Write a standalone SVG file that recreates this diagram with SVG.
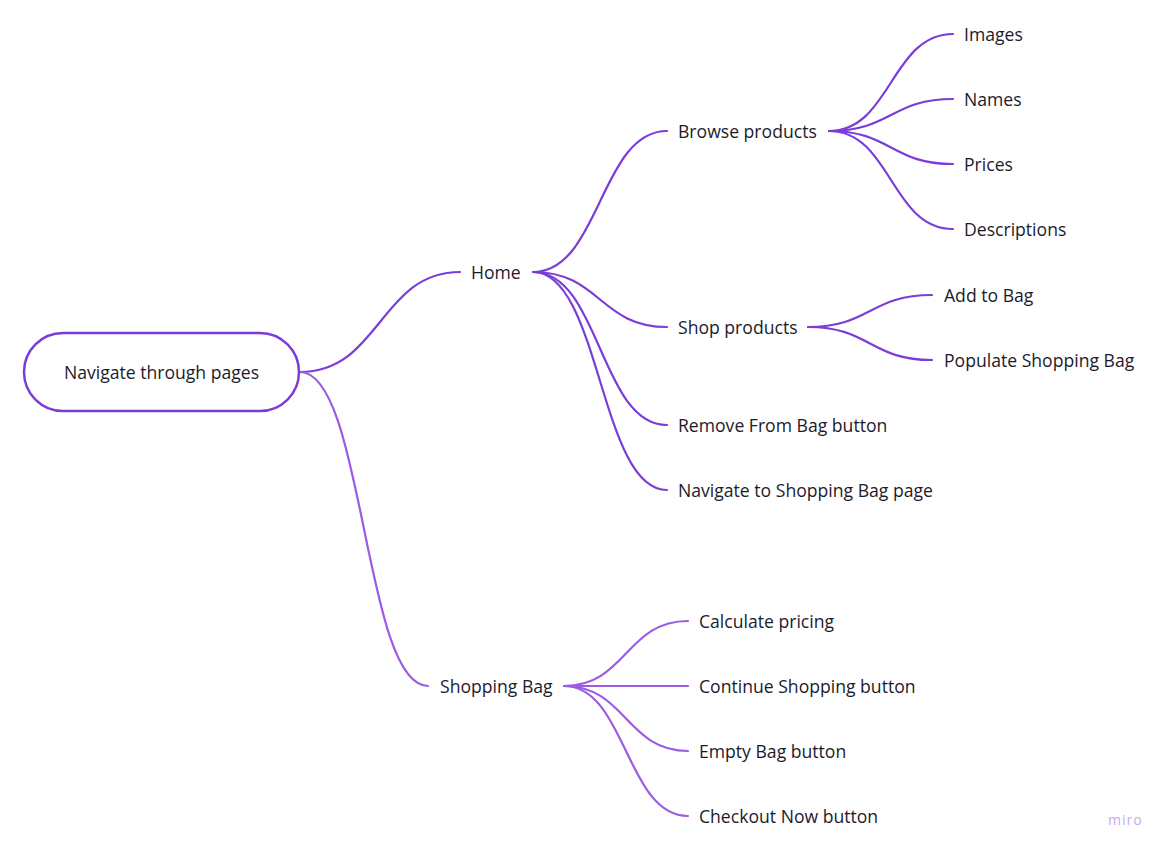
<svg xmlns="http://www.w3.org/2000/svg" width="1172" height="852" viewBox="0 0 1172 852">
<style>
text{font-family:"Open Sans","Noto Sans",sans-serif;font-size:17.6px;fill:#1c1b2b;dominant-baseline:central}
.c{fill:none;stroke:#7b3dd8;stroke-width:2.2;stroke-linecap:round}
.s{stroke:#9b5ce2}
.wm{font-size:14px;fill:#c9a6f2;letter-spacing:1px}
</style>
<rect width="1172" height="852" fill="#fff"/>
<g id="connectors">
<path class="c" d="M300 372 C380 372 380 272 460 272"/>
<path class="c s" d="M300 372 C364 372 364 686 428 686"/>
<path class="c" d="M533 272 C600 272 600 131 667 131"/>
<path class="c" d="M533 272 C600 272 600 327 667 327"/>
<path class="c" d="M533 272 C600 272 600 425 667 425"/>
<path class="c" d="M533 272 C600 272 600 490 667 490"/>
<path class="c" d="M829 131 C891 131 891 34 953 34"/>
<path class="c" d="M829 131 C891 131 891 99 953 99"/>
<path class="c" d="M829 131 C891 131 891 164 953 164"/>
<path class="c" d="M829 131 C891 131 891 229 953 229"/>
<path class="c" d="M808 327 C870 327 870 295 932 295"/>
<path class="c" d="M808 327 C870 327 870 360 932 360"/>
<path class="c s" d="M564 686 C626 686 626 621 688 621"/>
<path class="c s" d="M564 686 C626 686 626 686 688 686"/>
<path class="c s" d="M564 686 C626 686 626 751 688 751"/>
<path class="c s" d="M564 686 C626 686 626 816 688 816"/>
</g>
<g id="root"><rect x="24" y="333" width="275" height="78" rx="39" fill="#fff" stroke="#7b3dd8" stroke-width="2.5"/><text x="161.5" y="372" text-anchor="middle">Navigate through pages</text></g>
<g id="home"><text x="471" y="272">Home</text></g>
<g id="shoppingbag"><text x="440" y="686">Shopping Bag</text></g>
<g id="browse"><text x="678" y="131">Browse products</text></g>
<g id="shop"><text x="678" y="327">Shop products</text></g>
<g id="remove"><text x="678" y="425">Remove From Bag button</text></g>
<g id="navigate"><text x="678" y="490">Navigate to Shopping Bag page</text></g>
<g id="images"><text x="964" y="34">Images</text></g>
<g id="names"><text x="964" y="99">Names</text></g>
<g id="prices"><text x="964" y="164">Prices</text></g>
<g id="descriptions"><text x="964" y="229">Descriptions</text></g>
<g id="addtobag"><text x="944" y="295">Add to Bag</text></g>
<g id="populate"><text x="944" y="360">Populate Shopping Bag</text></g>
<g id="calculate"><text x="699" y="621">Calculate pricing</text></g>
<g id="continue"><text x="699" y="686">Continue Shopping button</text></g>
<g id="empty"><text x="699" y="751">Empty Bag button</text></g>
<g id="checkout"><text x="699" y="816">Checkout Now button</text></g>
<text class="wm" x="1108" y="819">miro</text>
</svg>
